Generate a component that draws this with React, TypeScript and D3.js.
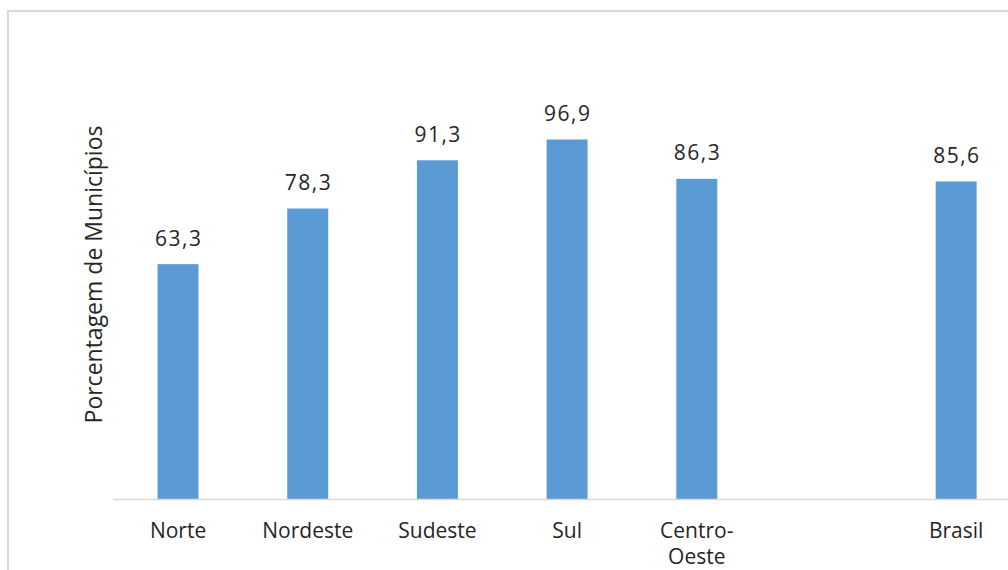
import React from "react";
import * as d3 from "d3";

const categories = ["Norte", "Nordeste", "Sudeste", "Sul", "Centro-Oeste", "", "Brasil"];
const values: (number | null)[] = [63.3, 78.3, 91.3, 96.9, 86.3, null, 85.6];
const categoryLines: string[][] = [["Norte"], ["Nordeste"], ["Sudeste"], ["Sul"], ["Centro-", "Oeste"], [], ["Brasil"]];
const yTitle = "Porcentagem de Municípios";

const W = 1008;
const H = 570;

export default function App() {
  const x = d3.scaleBand<string>().domain(categories.map((c, i) => String(i))).range([113.2, 1021]).paddingInner(0.684).paddingOuter(0.342);
  const y = d3.scaleLinear().domain([0, 100]).range([499, 128]);
  const fmt = (v: number) => d3.format(".1f")(v).replace(".", ",");
  const font = "'Open Sans', sans-serif";
  const color = "#262626";

  return (
    <svg width={W} height={H} style={{ position: "absolute", left: 0, top: 0, background: "#fff" }}>
      <rect x={0} y={0} width={W} height={H} fill="#ffffff" />
      <rect x={8} y={11} width={1200} height={800} fill="none" stroke="#d9d9d9" strokeWidth={2} />
      {values.map((v, i) =>
        v == null ? null : (
          <rect key={"b" + i} x={x(String(i))!} y={y(v)} width={x.bandwidth()} height={y(0) - y(v)} fill="#5b9bd5" />
        )
      )}
      <line x1={113} x2={1021} y1={499.5} y2={499.5} stroke="#d9d9d9" strokeWidth={1.5} />
      {values.map((v, i) =>
        v == null ? null : (
          <text
            key={"v" + i}
            x={x(String(i))! + x.bandwidth() / 2 + 0.75}
            y={y(v) - 18.5}
            textAnchor="middle"
            fontFamily={font}
            fontSize={21}
            letterSpacing={1.5}
            fill={color}
          >
            {fmt(v)}
          </text>
        )
      )}
      {categoryLines.map((lines, i) =>
        lines.map((ln, j) => (
          <text
            key={"c" + i + "-" + j}
            x={x(String(i))! + x.bandwidth() / 2}
            y={538 + j * 25.5}
            textAnchor="middle"
            fontFamily={font}
            fontSize={21}
            fill={color}
          >
            {ln}
          </text>
        ))
      )}
      <text
        transform={`translate(101.5, ${(125 + 424) / 2}) rotate(-90)`}
        textAnchor="middle"
        fontFamily={font}
        fontSize={23}
        fill={color}
      >
        {yTitle}
      </text>
    </svg>
  );
}
